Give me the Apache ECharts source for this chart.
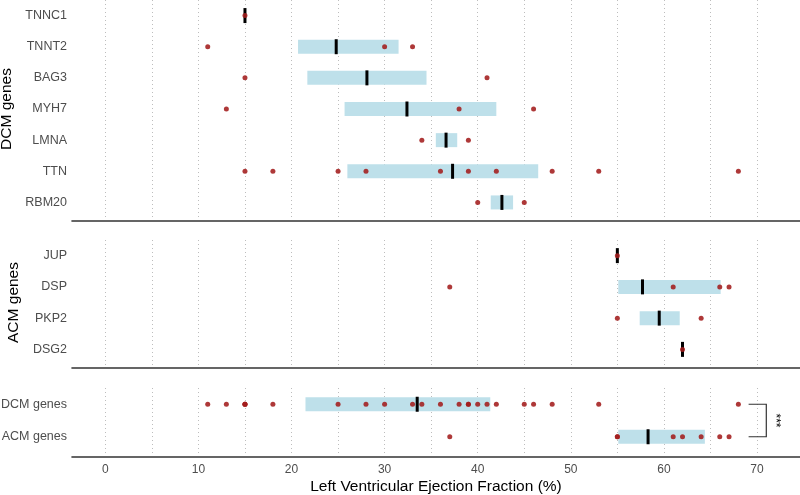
<!DOCTYPE html>
<html>
<head>
<meta charset="utf-8">
<script src="https://cdn.jsdelivr.net/npm/echarts@6/dist/echarts.min.js"></script>
<style>
html,body{margin:0;padding:0;background:#fff;}
#chart{width:800px;height:495px;}
</style>
</head>
<body>
<div id="chart"></div>
<script>
// ---------- DATA ----------
const dcmGenes   = ['TNNC1', 'TNNT2', 'BAG3', 'MYH7', 'LMNA', 'TTN', 'RBM20'];
const dcmBoxLow  = [15, 20.7, 21.7, 25.7, 35.5, 26.0, 41.4];
const dcmBoxHigh = [15, 31.5, 34.5, 42.0, 37.8, 46.5, 43.8];
const dcmMedian  = [15, 24.8, 28.1, 32.4, 36.6, 37.3, 42.6];
const dcmPoints  = [
  ['TNNC1', 15],
  ['TNNT2', 11], ['TNNT2', 30], ['TNNT2', 33],
  ['BAG3', 15], ['BAG3', 41],
  ['MYH7', 13], ['MYH7', 38], ['MYH7', 46],
  ['LMNA', 34], ['LMNA', 39],
  ['TTN', 15], ['TTN', 18], ['TTN', 25], ['TTN', 28], ['TTN', 36], ['TTN', 39],
  ['TTN', 42], ['TTN', 48], ['TTN', 53], ['TTN', 68],
  ['RBM20', 40], ['RBM20', 45]
];

const acmGenes   = ['JUP', 'DSP', 'PKP2', 'DSG2'];
const acmBoxLow  = [55, 55.1, 57.4, 62];
const acmBoxHigh = [55, 66.1, 61.7, 62];
const acmMedian  = [55, 57.7, 59.5, 62];
const acmPoints  = [
  ['JUP', 55],
  ['DSP', 37], ['DSP', 61], ['DSP', 66], ['DSP', 67],
  ['PKP2', 55], ['PKP2', 64],
  ['DSG2', 62]
];

const groups        = ['DCM genes', 'ACM genes'];
const groupBoxLow   = [21.5, 55.1];
const groupBoxHigh  = [41.35, 64.4];
const groupMedian   = [33.5, 58.3];
const dcmGroupPoints = [11, 13, 15, 15, 15, 18, 25, 28, 30, 33, 34, 36, 38, 39, 39, 40, 41, 42, 45, 46, 48, 53, 68];
const acmGroupPoints = [37, 55, 55, 61, 62, 64, 66, 67];

const sigBracket = [69.1, 71.0, 72.0]; // bracket start, bracket end, stars
const sigLabel = '***';

const gridTicks  = [0, 5, 10, 15, 20, 25, 30, 35, 40, 45, 50, 55, 60, 65, 70];
const tickLabels = [0, 10, 20, 30, 40, 50, 60, 70];
const xTitle = 'Left Ventricular Ejection Fraction (%)';

// ---------- STYLE ----------
const FONT = 'Liberation Sans, Arial, Helvetica, sans-serif';
const X_MIN = -3.58, X_MAX = 74.62;
const BOX_COLOR = '#bee0ea';
const PT_COLOR = '#a31d1d';

function boxRender(params, api) {
  const lo = api.value(0), hi = api.value(1), c = api.value(2);
  if (!(hi > lo)) return null;
  const a = api.coord([lo, c]), b = api.coord([hi, c]);
  return {
    type: 'rect',
    shape: { x: a[0], y: a[1] - 7, width: b[0] - a[0], height: 14 },
    style: { fill: BOX_COLOR }
  };
}

function panelSeries(idx, cats, lo, hi, med, pts) {
  return [
    {
      type: 'scatter', xAxisIndex: idx, yAxisIndex: idx, data: [], z: 1, silent: true,
      markLine: {
        silent: true, symbol: 'none', z: 1, animation: false,
        label: { show: false },
        lineStyle: { type: [1, 3], color: '#bdbdbd', width: 1 },
        data: gridTicks.map(v => ({ xAxis: v }))
      }
    },
    {
      type: 'custom', xAxisIndex: idx, yAxisIndex: idx, z: 2, silent: true,
      renderItem: boxRender,
      encode: { x: [0, 1], y: 2 },
      data: cats.map((c, i) => [lo[i], hi[i], i])
    },
    {
      type: 'scatter', xAxisIndex: idx, yAxisIndex: idx, z: 3, silent: true,
      symbol: 'rect', symbolSize: [3, 15],
      itemStyle: { color: '#000', opacity: 1 },
      data: cats.map((c, i) => [med[i], c])
    },
    {
      type: 'scatter', xAxisIndex: idx, yAxisIndex: idx, z: 4, silent: true,
      symbol: 'circle', symbolSize: 5,
      itemStyle: { color: PT_COLOR, opacity: 0.88 },
      data: pts.map(p => [p[1], p[0]])
    }
  ];
}

function xAxisCfg(idx, offset, showLabels) {
  const cfg = {
    gridIndex: idx, type: 'value', min: X_MIN, max: X_MAX, offset: offset,
    axisLine: { show: true, lineStyle: { color: '#333', width: 1.6 } },
    axisTick: { show: false },
    splitLine: { show: false },
    axisLabel: { show: false }
  };
  if (showLabels) {
    cfg.axisLabel = {
      show: true, customValues: tickLabels, color: '#4d4d4d', fontSize: 12,
      fontFamily: FONT, margin: 7
    };
    cfg.name = xTitle;
    cfg.nameLocation = 'middle';
    cfg.nameGap = 22;
    cfg.nameTextStyle = { color: '#000', fontSize: 15.5, fontFamily: FONT };
  }
  return cfg;
}

function yAxisCfg(idx, cats, name) {
  const cfg = {
    gridIndex: idx, type: 'category', data: cats, inverse: true,
    axisLine: { show: false }, axisTick: { show: false }, splitLine: { show: false },
    axisLabel: { color: '#4d4d4d', fontSize: 12.5, fontFamily: FONT, margin: 5 }
  };
  if (name) {
    cfg.name = name;
    cfg.nameLocation = 'middle';
    cfg.nameRotate = 90;
    cfg.nameGap = 50;
    cfg.nameTextStyle = { color: '#000', fontSize: 15.5, fontFamily: FONT };
  }
  return cfg;
}

const groupPoints = dcmGroupPoints.map(v => ['DCM genes', v])
  .concat(acmGroupPoints.map(v => ['ACM genes', v]));

const gridBase = { left: 72, right: 0, containLabel: false, outerBoundsMode: 'none' };

const option = {
  backgroundColor: '#fff',
  animation: false,
  textStyle: { fontFamily: FONT },
  grid: [
    Object.assign({ top: 0, height: 218 }, gridBase),
    Object.assign({ top: 240, height: 125 }, gridBase),
    Object.assign({ top: 388, height: 65 }, gridBase)
  ],
  xAxis: [xAxisCfg(0, 3, false), xAxisCfg(1, 3, false), xAxisCfg(2, 4, true)],
  yAxis: [yAxisCfg(0, dcmGenes, 'DCM genes'), yAxisCfg(1, acmGenes, 'ACM genes'), yAxisCfg(2, groups, null)],
  series: [].concat(
    panelSeries(0, dcmGenes, dcmBoxLow, dcmBoxHigh, dcmMedian, dcmPoints),
    panelSeries(1, acmGenes, acmBoxLow, acmBoxHigh, acmMedian, acmPoints),
    panelSeries(2, groups, groupBoxLow, groupBoxHigh, groupMedian, groupPoints),
    [{
      type: 'custom', xAxisIndex: 2, yAxisIndex: 2, z: 5, silent: true,
      encode: { x: [0, 1, 2] },
      data: [sigBracket],
      renderItem: function (params, api) {
        const x0 = api.value(0), x1 = api.value(1), x2 = api.value(2);
        const p1 = api.coord([x0, 0]), p2 = api.coord([x1, 0]);
        const p3 = api.coord([x1, 1]), p4 = api.coord([x0, 1]);
        const ps = api.coord([x2, 0]);
        return {
          type: 'group',
          children: [
            { type: 'polyline', shape: { points: [p1, p2, p3, p4] },
              style: { stroke: '#333', lineWidth: 1.2, fill: null } },
            { type: 'text', x: ps[0], y: (p2[1] + p3[1]) / 2, rotation: -Math.PI / 2,
              style: { text: sigLabel, fontSize: 12, fontFamily: FONT, fill: '#000',
                       align: 'center', verticalAlign: 'middle' } }
          ]
        };
      }
    }]
  )
};

const chart = echarts.init(document.getElementById('chart'), null, { renderer: 'canvas' });
chart.setOption(option);
</script>
</body>
</html>
